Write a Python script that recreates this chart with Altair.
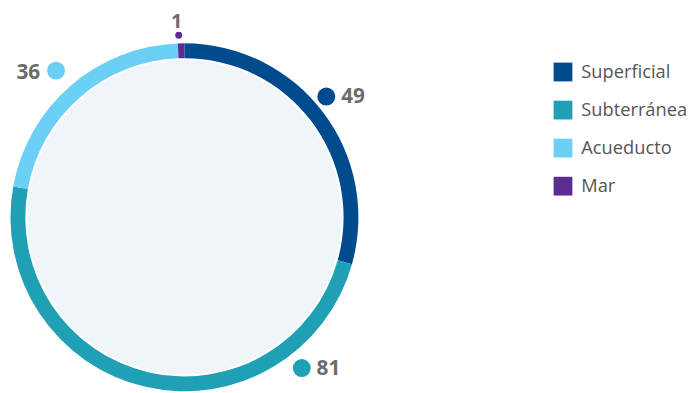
import altair as alt
import pandas as pd

# ---- data ----
categories = ["Superficial", "Subterránea", "Acueducto", "Mar"]
values = [49, 81, 36, 1]
colors = ["#004b8d", "#20a0b4", "#6bcff6", "#5b2d91"]

# ---- label placement (angle in degrees clockwise from top, distance from centre) ----
label_angle = [49.6, 142.1, 318.8, 358.2]
label_dist = [188.5, 193.3, 197.2, 184.3]
label_side = ["right", "right", "left", "top"]

CX, CY = 178.5, 209.5
R_OUT, R_IN, R_FILL = 176, 161, 159

df = pd.DataFrame({"category": categories, "value": values, "order": list(range(len(values)))})
lab = pd.DataFrame({
    "category": categories,
    "value": values,
    "angle": label_angle,
    "dist": label_dist,
    "side": label_side,
    "label": [str(v) for v in values],
})

color_scale = alt.Scale(domain=categories, range=colors)

# Vega circle symbols: diameter = sqrt(size)
inner = alt.Chart(pd.DataFrame({"a": [0]})).mark_circle(
    size=(2 * R_FILL) ** 2, color="#f0f5f9", opacity=1
).encode(x=alt.value(CX), y=alt.value(CY))

ring = alt.Chart(df).mark_arc(outerRadius=R_OUT, innerRadius=R_IN).encode(
    theta=alt.Theta("value:Q", stack=True),
    order=alt.Order("order:Q"),
    color=alt.Color(
        "category:N",
        scale=color_scale,
        sort=categories,
        legend=alt.Legend(
            title=None,
            orient="none",
            legendX=552,
            legendY=53,
            symbolType="square",
            symbolSize=361,
            symbolStrokeWidth=0,
            labelFont="Open Sans",
            labelFontSize=18.5,
            labelColor="#555555",
            labelOffset=9,
            rowPadding=19.5,
        ),
    ),
    x=alt.value(CX),
    y=alt.value(CY),
)

lab_base = alt.Chart(lab).transform_calculate(
    px=f"{CX} + datum.dist * sin(datum.angle * PI / 180)",
    py=f"{CY} - datum.dist * cos(datum.angle * PI / 180)",
)

dots = lab_base.mark_circle(opacity=1).encode(
    x=alt.X("px:Q", scale=None, axis=None),
    y=alt.Y("py:Q", scale=None, axis=None),
    color=alt.Color("category:N", scale=color_scale, legend=None),
    size=alt.Size("value:Q", scale=alt.Scale(domain=[1, 36], range=[50, 330], clamp=True), legend=None),
)

text_style = dict(font="Open Sans", fontSize=21, fontWeight="bold", color="#6b6b6b")

t_right = lab_base.transform_filter("datum.side == 'right'").mark_text(
    align="left", baseline="middle", dx=15, dy=1, **text_style
).encode(x=alt.X("px:Q", scale=None, axis=None), y=alt.Y("py:Q", scale=None, axis=None), text="label:N")

t_left = lab_base.transform_filter("datum.side == 'left'").mark_text(
    align="right", baseline="middle", dx=-16, dy=2, **text_style
).encode(x=alt.X("px:Q", scale=None, axis=None), y=alt.Y("py:Q", scale=None, axis=None), text="label:N")

t_top = lab_base.transform_filter("datum.side == 'top'").mark_text(
    align="center", baseline="alphabetic", dx=-2, dy=-7, font="Open Sans", fontSize=20,
    fontWeight="bold", color="#6b6b6b"
).encode(x=alt.X("px:Q", scale=None, axis=None), y=alt.Y("py:Q", scale=None, axis=None), text="label:N")

chart = alt.layer(inner, ring, dots, t_right, t_left, t_top).properties(
    width=690,
    height=385,
    padding=0,
    autosize=alt.AutoSizeParams(type="none"),
    background="white",
).configure_view(stroke=None)

chart.save("out.html", embed_options={"renderer": "svg", "actions": False})
